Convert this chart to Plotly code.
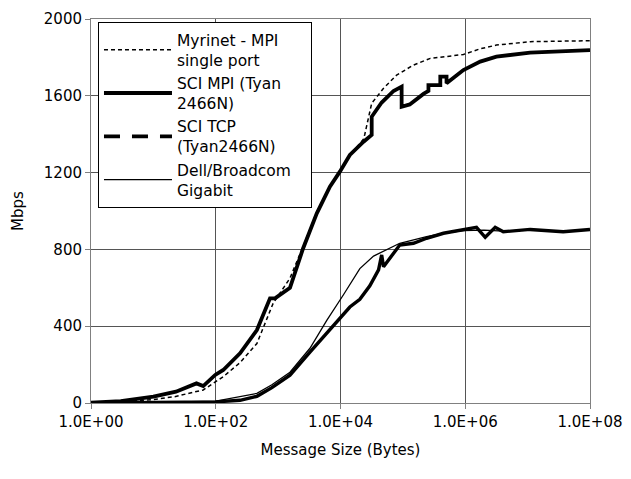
import plotly.graph_objects as go

# Message sizes (bytes) and throughput (Mbps)
myri_x = [1, 3, 10, 22, 63, 132, 245, 457, 832, 1549, 2512, 4169, 6761, 9772, 14125, 23442,
          24547, 31623, 48978, 79433, 147911, 275423, 933254, 1737801, 3162278, 10964782, 100000000]
myri_y = [0, 5, 18, 33, 68, 137, 210, 310, 519, 650, 815, 995, 1130, 1205, 1290, 1375,
          1400, 1561, 1639, 1708, 1760, 1795, 1815, 1845, 1864, 1882, 1887]

mpi_x = [1, 3, 10, 23, 49, 63, 98, 132, 245, 457, 741, 891, 1549, 2512, 4169, 6761, 9772,
         14125, 23442, 31623, 31623, 45709, 70795, 95499, 95499, 128825, 213796, 257040, 257040,
         398107, 398107, 501187, 501187, 933254, 1737801, 3162278, 10964782, 31622777, 100000000]
mpi_y = [2, 10, 33, 59, 102, 88, 146, 172, 259, 380, 545, 545, 600, 805, 988, 1127, 1205,
         1292, 1361, 1396, 1491, 1565, 1625, 1648, 1543, 1555, 1610, 1625, 1656,
         1656, 1700, 1700, 1665, 1734, 1778, 1804, 1825, 1833, 1838]

tcp_x = [1, 10, 100, 245, 457, 794, 1549, 3236, 6026, 9772, 14125, 20417, 29512, 40738,
         45709, 48978, 89125, 147911, 239883, 446684, 933254, 1513561, 2089296, 3019952,
         4073803, 10964782, 37153523, 100000000]
tcp_y = [0, 2, 6, 14, 35, 80, 145, 265, 365, 445, 500, 540, 610, 693,
         771, 710, 823, 832, 858, 884, 901, 915, 863, 915,
         892, 904, 892, 904]

dell_x = [1, 10, 100, 245, 457, 794, 1549, 3236, 6026, 11220, 20417, 33884, 48978, 89125,
          239883, 446684, 933254, 1995262, 4073803, 10964782, 37153523, 100000000]
dell_y = [0, 3, 10, 33, 50, 95, 160, 285, 430, 565, 700, 765, 790, 832,
          866, 885, 898, 900, 895, 902, 893, 902]

x_ticks = [1, 1e2, 1e4, 1e6, 1e8]
x_tick_text = ["1.0E+00", "1.0E+02", "1.0E+04", "1.0E+06", "1.0E+08"]
y_ticks = [0, 400, 800, 1200, 1600, 2000]
y_tick_text = ["0", "400", "800", "1200", "1600", "2000"]

FONT = "Verdana, DejaVu Sans, sans-serif"
PAD = "&nbsp;&nbsp;&nbsp;"

fig = go.Figure()
fig.add_trace(go.Scatter(x=myri_x, y=myri_y, mode="lines",
                         name="Myrinet - MPI<br>single port", legendrank=1,
                         line=dict(color="black", width=1.5, dash="4px,3px")))
fig.add_trace(go.Scatter(x=mpi_x, y=mpi_y, mode="lines",
                         name="SCI MPI (Tyan<br>2466N)", legendrank=2,
                         line=dict(color="black", width=3.8)))
fig.add_trace(go.Scatter(x=tcp_x, y=tcp_y, mode="lines", showlegend=False,
                         name="SCI TCP (Tyan2466N)",
                         line=dict(color="black", width=3.4)))
fig.add_trace(go.Scatter(x=[None], y=[None], mode="lines",
                         name="SCI TCP<br>(Tyan2466N)", legendrank=3,
                         line=dict(color="black", width=3.8, dash="16px,12px")))
fig.add_trace(go.Scatter(x=dell_x, y=dell_y, mode="lines",
                         name="Dell/Broadcom" + PAD + "<br>Gigabit", legendrank=4,
                         line=dict(color="black", width=1.3)))

fig.update_layout(
    width=631, height=479,
    margin=dict(l=91, r=41, t=19, b=76),
    paper_bgcolor="white", plot_bgcolor="white",
    font=dict(family=FONT, size=15, color="black"),
    legend=dict(x=0.014, y=0.992, xanchor="left", yanchor="top",
                bgcolor="white", bordercolor="black", borderwidth=1,
                font=dict(family=FONT, size=15.5, color="black"),
                tracegroupgap=0, itemwidth=68),
    xaxis=dict(type="log", range=[0, 8], tickvals=x_ticks, ticktext=x_tick_text,
               showgrid=True, gridcolor="#555555", gridwidth=1,
               showline=True, linecolor="#808080", linewidth=1, mirror=True,
               ticks="outside", ticklen=5, tickcolor="#808080",
               zeroline=False, automargin=False,
               title=dict(text="Message Size (Bytes)", standoff=14,
                          font=dict(family=FONT, size=15))),
    yaxis=dict(range=[0, 2000], tickvals=y_ticks, ticktext=y_tick_text,
               showgrid=True, gridcolor="#555555", gridwidth=1,
               showline=True, linecolor="#808080", linewidth=1, mirror=True,
               ticks="outside", ticklen=5, tickcolor="#808080",
               zeroline=False, automargin=False,
               title=dict(text="Mbps", standoff=16,
                          font=dict(family=FONT, size=15))),
)

fig.write_html("out.html")
